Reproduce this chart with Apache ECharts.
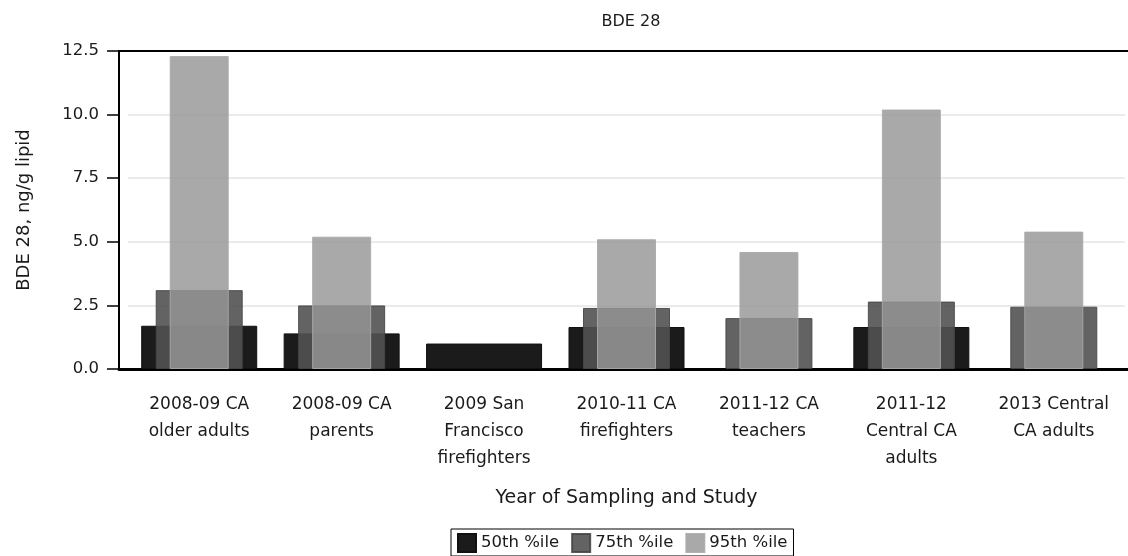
<!DOCTYPE html>
<html>
<head>
<meta charset="utf-8">
<script src="https://cdn.jsdelivr.net/npm/echarts@6/dist/echarts.min.js"></script>
<style>
  html, body { margin: 0; padding: 0; background: #fff; }
  #chart { width: 1128px; height: 556px; }
</style>
</head>
<body>
<div id="chart"></div>
<script>
// data
const studies = [
  '2008-09 CA\nolder adults',
  '2008-09 CA\nparents',
  '2009 San\nFrancisco\nfirefighters',
  '2010-11 CA\nfirefighters',
  '2011-12 CA\nteachers',
  '2011-12\nCentral CA\nadults',
  '2013 Central\nCA adults'
]
const p50 = [1.7, 1.4, 1.0, 1.65, null, 1.65, null]
const p75 = [3.1, 2.5, null, 2.4, 2.0, 2.65, 2.45]
const p95 = [12.3, 5.2, null, 5.1, 4.6, 10.2, 5.4]
const yTicks = { min: 0, max: 12.5, interval: 2.5 }

const font = '"DejaVu Sans", sans-serif'
const textColor = '#1a1a1a'

const chart = echarts.init(document.getElementById('chart'))

// extra category axes so every series is centred on its own band (bars overlap)
const hiddenX = () => ({
  type: 'category',
  gridIndex: 0,
  data: studies,
  show: false
})

// frame lines (top + bottom) that run from the y axis to the right edge
const frameX = pos => ({
  type: 'value',
  gridIndex: 1,
  position: pos,
  min: 0,
  max: 1,
  axisLine: { show: true, onZero: false, lineStyle: { color: '#000', width: pos === 'top' ? 2 : 3 } },
  axisTick: { show: false },
  axisLabel: { show: false },
  splitLine: { show: false }
})

chart.setOption({
  animation: false,
  textStyle: { fontFamily: font, color: textColor },
  title: {
    text: 'BDE 28',
    left: 626,
    top: 9,
    textAlign: 'center',
    textStyle: { fontFamily: font, fontSize: 16, fontWeight: 'normal', color: textColor }
  },
  legend: {
    left: 451,
    top: 529,
    orient: 'horizontal',
    icon: 'rect',
    borderColor: '#000',
    borderWidth: 1,
    padding: [4, 6, 3, 6],
    itemWidth: 18,
    itemHeight: 18,
    itemGap: 12,
    textStyle: { fontFamily: font, fontSize: 16.5, color: textColor },
    data: ['50th %ile', '75th %ile', '95th %ile']
  },
  grid: [
    { left: 128, right: 3, top: 51, height: 318 },
    { left: 119, right: -20, top: 51, height: 318 }
  ],
  xAxis: [
    {
      type: 'category',
      gridIndex: 0,
      data: studies,
      name: 'Year of Sampling and Study',
      nameLocation: 'middle',
      nameGap: 120,
      nameTextStyle: { fontFamily: font, fontSize: 19, color: textColor },
      axisLine: { lineStyle: { color: '#000', width: 3 } },
      axisTick: { alignWithLabel: true, length: 12, lineStyle: { color: '#000', width: 1.5 } },
      axisLabel: {
        interval: 0,
        margin: 22,
        lineHeight: 27,
        fontFamily: font,
        fontSize: 17,
        color: textColor
      }
    },
    hiddenX(),
    hiddenX(),
    frameX('top'),
    frameX('bottom')
  ],
  yAxis: [
    {
      type: 'value',
      gridIndex: 0,
      min: yTicks.min,
      max: yTicks.max,
      interval: yTicks.interval,
      offset: 9,
      name: 'BDE 28, ng/g lipid',
      nameLocation: 'middle',
      nameGap: 86,
      nameTextStyle: { fontFamily: font, fontSize: 18, color: textColor },
      axisLine: { show: true, lineStyle: { color: '#000', width: 2 } },
      axisTick: { show: true, length: 12, lineStyle: { color: '#000', width: 1.5 } },
      axisLabel: {
        margin: 20,
        fontFamily: font,
        fontSize: 16.5,
        color: textColor,
        formatter: v => v.toFixed(1)
      },
      splitLine: { show: true, lineStyle: { color: '#ebebeb', width: 2 } }
    },
    { type: 'value', gridIndex: 1, show: false, min: 0, max: 1 }
  ],
  series: [
    {
      name: '50th %ile',
      type: 'bar',
      xAxisIndex: 0,
      barWidth: 116,
      data: p50,
      itemStyle: { color: '#1b1b1b', borderColor: '#111', borderWidth: 1, borderRadius: 0 },
      z: 2
    },
    {
      name: '75th %ile',
      type: 'bar',
      xAxisIndex: 1,
      barWidth: 87,
      data: p75,
      itemStyle: { color: 'rgba(82, 82, 82, 0.9)', borderColor: 'rgba(70, 70, 70, 0.9)', borderWidth: 1, borderRadius: 0 },
      z: 3
    },
    {
      name: '95th %ile',
      type: 'bar',
      xAxisIndex: 2,
      barWidth: 59,
      data: p95,
      itemStyle: { color: 'rgba(150, 150, 150, 0.82)', borderColor: 'rgba(170, 170, 170, 0.9)', borderWidth: 1, borderRadius: 0 },
      z: 4
    }
  ]
})
</script>
</body>
</html>
